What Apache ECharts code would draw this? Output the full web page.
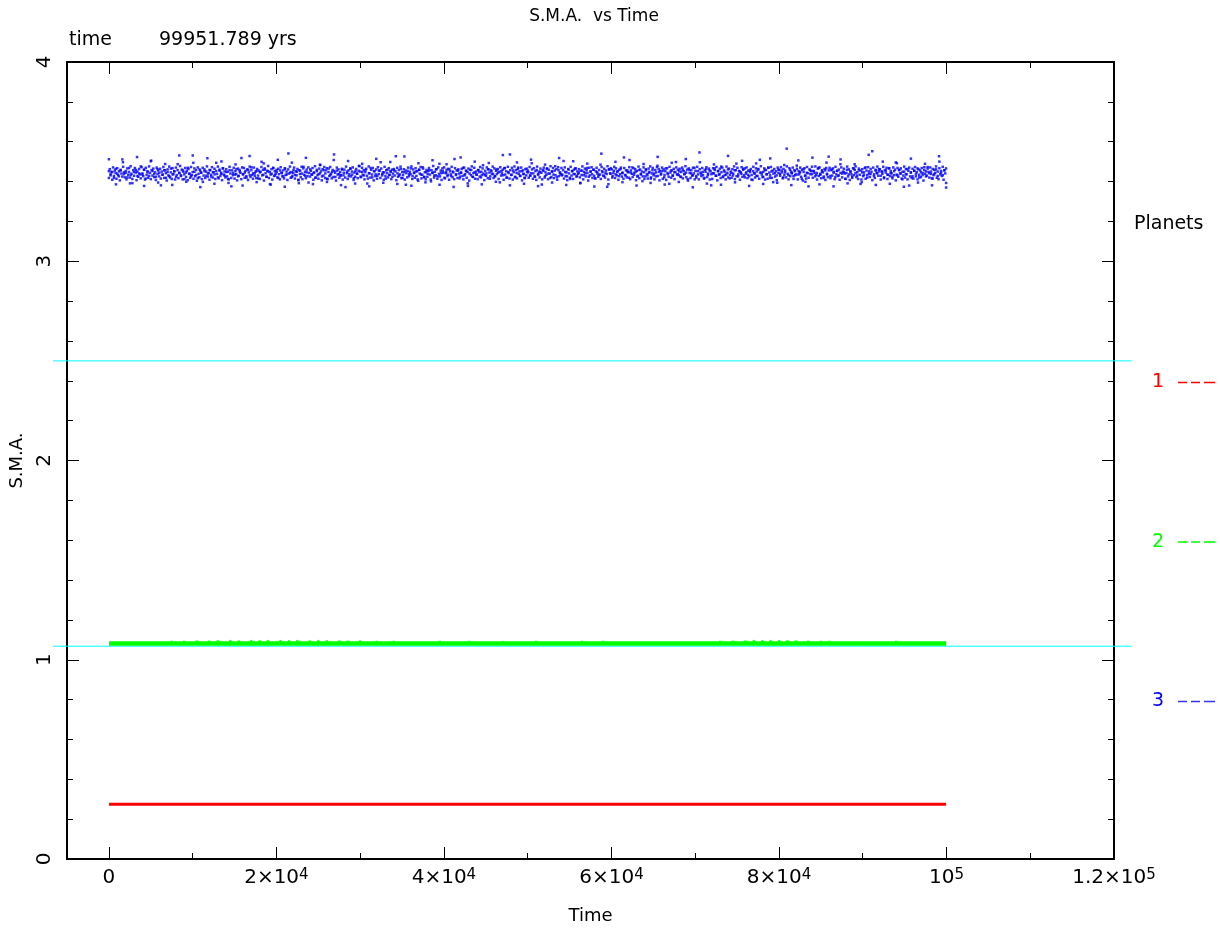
<!DOCTYPE html>
<html>
<head>
<meta charset="utf-8">
<script src="https://cdn.jsdelivr.net/npm/echarts@6/dist/echarts.min.js"></script>
<style>html,body{margin:0;padding:0;background:#fff;}#c{width:1220px;height:929px;}</style>
</head>
<body>
<div id="c"></div>
<script>
// ---- data ----
const xMajorTicks = [0, 20000, 40000, 60000, 80000, 100000, 120000];
const xMinorTicks = [10000, 30000, 50000, 70000, 90000, 110000];
const xTickLabels = ['{b|0}', '{b|2×10}{s|4}', '{b|4×10}{s|4}', '{b|6×10}{s|4}', '{b|8×10}{s|4}', '{b|10}{s|5}', '{b|1.2×10}{s|5}'];
const yTickLabels = ['0', '1', '2', '3', '4'];
const finalTime = 99951.789;
const stabilityLimits = [2.5, 1.068];

const redTimes = [0, 25000, 50000, 75000, 99951.789];
const redValues = [0.275, 0.275, 0.275, 0.275, 0.275];

const greenTimes = [0, 10000, 20000, 30000, 40000, 50000, 60000, 70000, 80000, 90000, 99951.789];
const greenValues = [1.081, 1.082, 1.082, 1.082, 1.081, 1.081, 1.081, 1.081, 1.082, 1.081, 1.081];
const greenBumpTimes = [7500, 9000, 10500, 12000, 13000, 14500, 15500, 17000, 18000, 19000, 20500, 21500, 22500, 24000, 25000, 26000, 27500, 28500, 30000, 32000, 34000, 39500, 43000, 47000, 51000, 56500, 59000, 73000, 74500, 76000, 77000, 78000, 79000, 80000, 81000, 82000, 83500, 85000, 86000, 94000];
const greenBumpValues = [1.088, 1.088, 1.090, 1.089, 1.091, 1.092, 1.090, 1.092, 1.091, 1.092, 1.092, 1.091, 1.092, 1.090, 1.092, 1.091, 1.090, 1.089, 1.090, 1.088, 1.088, 1.088, 1.088, 1.087, 1.088, 1.088, 1.088, 1.088, 1.089, 1.090, 1.092, 1.091, 1.092, 1.092, 1.091, 1.090, 1.089, 1.088, 1.088, 1.088];

// planet 3 snapshots, set A (includes scattered outliers)
const blueSetA = [
3.452,3.431,3.447,3.418,3.463,3.439,3.426,3.455,3.511,3.437,3.444,3.421,3.468,3.433,3.392,3.449,3.458,3.428,3.441,3.476,
3.435,3.459,3.415,3.446,3.429,3.502,3.453,3.438,3.424,3.462,3.443,3.381,3.434,3.457,3.419,3.448,3.427,3.465,3.436,3.451,
3.423,3.487,3.442,3.431,3.456,3.412,3.445,3.469,3.438,3.427,3.531,3.449,3.433,3.417,3.461,3.444,3.398,3.452,3.429,3.440,
3.458,3.425,3.447,3.436,3.494,3.421,3.454,3.439,3.466,3.430,3.448,3.413,3.457,3.376,3.443,3.435,3.462,3.426,3.450,3.518,
3.437,3.445,3.420,3.459,3.432,3.471,3.441,3.428,3.453,3.416,3.446,3.499,3.434,3.460,3.424,3.451,3.387,3.439,3.467,3.430,
3.448,3.418,3.456,3.442,3.427,3.463,3.436,3.541,3.445,3.422,3.458,3.433,3.449,3.409,3.454,3.440,3.474,3.429,3.446,3.395,
3.461,3.434,3.443,3.419,3.452,3.437,3.483,3.426,3.457,3.441,3.414,3.465,3.432,3.448,3.508,3.423,3.455,3.438,3.429,3.460,
3.444,3.372,3.450,3.427,3.464,3.435,3.417,3.453,3.440,3.478,3.425,3.447,3.431,3.458,3.390,3.442,3.468,3.421,3.452,3.436,
3.429,3.455,3.497,3.438,3.446,3.415,3.460,3.433,3.449,3.424,3.456,3.527,3.441,3.430,3.463,3.418,3.447,3.384,3.454,3.437,
3.466,3.428,3.443,3.451,3.411,3.459,3.435,3.472,3.422,3.448,3.439,3.457,3.401,3.445,3.430,3.462,3.426,3.489,3.442,3.453,
3.419,3.447,3.434,3.461,3.428,3.450,3.513,3.437,3.455,3.416,3.444,3.469,3.431,3.452,3.378,3.440,3.458,3.423,3.446,3.436,
3.457,3.425,3.449,3.482,3.433,3.441,3.462,3.414,3.451,3.438,3.427,3.460,3.445,3.396,3.453,3.432,3.467,3.420,3.448,3.536,
3.434,3.456,3.421,3.443,3.470,3.429,3.452,3.439,3.417,3.465,3.446,3.430,3.492,3.441,3.424,3.458,3.436,3.449,3.385,3.454,
3.427,3.463,3.440,3.418,3.451,3.435,3.477,3.422,3.457,3.444,3.431,3.503,3.448,3.426,3.460,3.413,3.453,3.438,3.466,3.429,
3.445,3.393,3.455,3.432,3.441,3.468,3.424,3.450,3.437,3.459,3.416,3.447,3.433,3.485,3.452,3.428,3.443,3.374,3.461,3.439,
3.420,3.454,3.436,3.448,3.427,3.463,3.442,3.521,3.430,3.456,3.419,3.445,3.471,3.434,3.450,3.425,3.458,3.438,3.402,3.447,
3.462,3.431,3.444,3.415,3.457,3.440,3.426,3.479,3.449,3.435,3.453,3.421,3.466,3.443,3.389,3.455,3.430,3.446,3.498,3.437,
3.451,3.423,3.460,3.436,3.445,3.412,3.458,3.441,3.432,3.469,3.427,3.452,3.546,3.439,3.448,3.418,3.463,3.434,3.456,3.381,
3.442,3.466,3.429,3.453,3.437,3.475,3.422,3.449,3.435,3.461,3.416,3.444,3.430,3.457,3.490,3.426,3.450,3.439,3.464,3.421,
3.447,3.433,3.456,3.410,3.452,3.440,3.428,3.463,3.509,3.445,3.424,3.458,3.436,3.470,3.419,3.451,3.397,3.443,3.431,3.460,
3.438,3.455,3.421,3.446,3.565,3.432,3.459,3.441,3.427,3.452,3.480,3.435,3.448,3.414,3.462,3.429,3.444,3.376,3.457,3.437,
3.453,3.426,3.443,3.468,3.434,3.450,3.418,3.456,3.439,3.525,3.428,3.461,3.445,3.422,3.454,3.431,3.487,3.440,3.447,3.413,
3.459,3.436,3.449,3.425,3.464,3.442,3.430,3.457,3.388,3.446,3.433,3.471,3.420,3.451,3.438,3.552,3.427,3.455,3.441,3.462,
3.429,3.448,3.417,3.456,3.435,3.467,3.443,3.424,3.452,3.496,3.431,3.459,3.440,3.411,3.449,3.436,3.463,3.380,3.445,3.427,
3.454,3.438,3.466,3.421,3.447,3.433,3.458,3.426,3.473,3.442,3.450,3.415,3.437,3.461,3.428,3.500,3.444,3.432,3.456,3.370
];
// planet 3 snapshots, set B (dense core of the band)
const blueSetB = [
3.418,3.462,3.437,3.449,3.409,3.471,3.428,3.455,3.443,3.414,3.467,3.432,3.451,3.406,3.459,3.440,3.425,3.474,3.446,3.421,
3.453,3.411,3.466,3.434,3.448,3.420,3.477,3.439,3.413,3.457,3.429,3.468,3.445,3.407,3.450,3.424,3.463,3.436,3.416,3.472,
3.441,3.427,3.459,3.410,3.469,3.433,3.452,3.419,3.476,3.444,3.412,3.458,3.430,3.465,3.422,3.447,3.408,3.470,3.438,3.455,
3.426,3.464,3.415,3.450,3.435,3.473,3.418,3.456,3.442,3.405,3.461,3.431,3.475,3.421,3.446,3.413,3.467,3.437,3.452,3.410,
3.470,3.432,3.457,3.417,3.444,3.478,3.428,3.460,3.411,3.449,3.436,3.468,3.423,3.454,3.407,3.463,3.440,3.419,3.473,3.433,
3.448,3.414,3.466,3.427,3.458,3.404,3.471,3.439,3.422,3.455,3.445,3.412,3.469,3.430,3.461,3.418,3.450,3.476,3.425,3.443,
3.409,3.457,3.434,3.472,3.420,3.447,3.464,3.413,3.453,3.438,3.475,3.416,3.460,3.428,3.444,3.407,3.467,3.435,3.451,3.421,
3.462,3.426,3.449,3.411,3.474,3.440,3.418,3.456,3.432,3.469,3.415,3.452,3.437,3.406,3.465,3.429,3.458,3.444,3.412,3.471,
3.436,3.468,3.419,3.453,3.427,3.461,3.408,3.446,3.475,3.423,3.457,3.433,3.414,3.470,3.441,3.450,3.417,3.463,3.430,3.455,
3.413,3.449,3.473,3.431,3.459,3.405,3.466,3.442,3.424,3.454,3.478,3.418,3.447,3.435,3.462,3.410,3.469,3.428,3.452,3.439,
3.458,3.421,3.464,3.437,3.411,3.472,3.445,3.426,3.456,3.416,3.467,3.433,3.450,3.408,3.461,3.440,3.475,3.419,3.448,3.429,
3.444,3.470,3.415,3.452,3.431,3.463,3.407,3.457,3.438,3.422,3.474,3.412,3.466,3.434,3.449,3.417,3.460,3.427,3.471,3.443,
3.425,3.454,3.436,3.468,3.409,3.446,3.477,3.420,3.459,3.432,3.414,3.465,3.441,3.451,3.406,3.462,3.430,3.473,3.418,3.456,
3.467,3.412,3.448,3.428,3.473,3.439,3.416,3.458,3.423,3.453,3.444,3.405,3.470,3.435,3.461,3.419,3.447,3.432,3.464,3.410,
3.431,3.460,3.420,3.475,3.442,3.413,3.456,3.437,3.466,3.426,3.450,3.471,3.408,3.445,3.424,3.463,3.439,3.417,3.454,3.478,
3.450,3.422,3.469,3.433,3.457,3.411,3.447,3.464,3.429,3.415,3.476,3.441,3.420,3.459,3.435,3.468,3.406,3.452,3.427,3.461,
3.414,3.472,3.438,3.455,3.418,3.465,3.431,3.446,3.409,3.474,3.428,3.457,3.443,3.421,3.467,3.434,3.453,3.412,3.460,3.440,
3.463,3.430,3.451,3.407,3.469,3.424,3.458,3.436,3.475,3.417,3.448,3.433,3.462,3.410,3.455,3.442,3.421,3.470,3.427,3.449,
3.437,3.476,3.413,3.461,3.445,3.419,3.467,3.428,3.452,3.404,3.459,3.440,3.473,3.416,3.434,3.465,3.423,3.447,3.411,3.458,
3.424,3.453,3.468,3.435,3.410,3.457,3.443,3.478,3.420,3.449,3.431,3.462,3.414,3.471,3.439,3.426,3.455,3.408,3.466,3.444,
3.471,3.416,3.442,3.459,3.427,3.464,3.409,3.451,3.436,3.474,3.422,3.446,3.412,3.467,3.433,3.456,3.418,3.461,3.440,3.425,
3.445,3.463,3.428,3.411,3.470,3.437,3.455,3.419,3.448,3.465,3.405,3.459,3.432,3.476,3.424,3.442,3.469,3.414,3.450,3.434,
3.412,3.458,3.447,3.473,3.421,3.433,3.466,3.440,3.407,3.454,3.429,3.471,3.417,3.461,3.445,3.426,3.457,3.438,3.475,3.418,
3.466,3.427,3.454,3.438,3.463,3.413,3.449,3.472,3.430,3.441,3.460,3.409,3.468,3.435,3.452,3.420,3.474,3.443,3.415,3.457,
3.433,3.469,3.410,3.447,3.476,3.424,3.458,3.416,3.464,3.439,3.451,3.428,3.470,3.406,3.456,3.437,3.419,3.462,3.431,3.448,
3.455,3.419,3.473,3.430,3.442,3.461,3.414,3.467,3.426,3.453,3.408,3.475,3.436,3.449,3.421,3.465,3.444,3.411,3.458,3.470,
3.420,3.446,3.434,3.466,3.412,3.459,3.440,3.477,3.423,3.450,3.468,3.417,3.455,3.432,3.462,3.409,3.472,3.427,3.445,3.436,
3.468,3.435,3.457,3.415,3.471,3.428,3.446,3.407,3.463,3.441,3.419,3.474,3.430,3.452,3.413,3.460,3.437,3.466,3.424,3.451,
3.439,3.462,3.421,3.454,3.433,3.476,3.411,3.448,3.465,3.426,3.457,3.443,3.405,3.469,3.431,3.450,3.472,3.418,3.460,3.429,
3.416,3.451,3.469,3.440,3.424,3.458,3.435,3.413,3.473,3.447,3.430,3.464,3.420,3.455,3.438,3.477,3.410,3.461,3.442,3.467,
3.461,3.428,3.443,3.474,3.418,3.466,3.431,3.452,3.409,3.459,3.437,3.470,3.425,3.445,3.414,3.468,3.433,3.456,3.421,3.448,
3.447,3.472,3.412,3.456,3.439,3.423,3.467,3.444,3.462,3.407,3.453,3.429,3.475,3.417,3.460,3.436,3.450,3.426,3.471,3.413,
3.426,3.457,3.438,3.415,3.465,3.449,3.476,3.421,3.441,3.468,3.432,3.411,3.458,3.446,3.473,3.428,3.463,3.406,3.454,3.440,
3.470,3.414,3.461,3.433,3.452,3.408,3.467,3.437,3.424,3.474,3.445,3.419,3.456,3.430,3.464,3.412,3.448,3.471,3.435,3.459,
3.432,3.464,3.425,3.448,3.470,3.416,3.453,3.439,3.477,3.422,3.460,3.405,3.466,3.443,3.418,3.457,3.429,3.469,3.441,3.411,
3.454,3.420,3.474,3.436,3.411,3.462,3.445,3.427,3.468,3.432,3.415,3.458,3.449,3.472,3.423,3.440,3.465,3.410,3.451,3.437,
3.413,3.467,3.441,3.458,3.429,3.473,3.406,3.452,3.435,3.464,3.418,3.447,3.470,3.426,3.456,3.433,3.411,3.475,3.444,3.421,
3.465,3.434,3.450,3.419,3.462,3.440,3.476,3.412,3.457,3.427,3.469,3.436,3.453,3.409,3.446,3.472,3.424,3.459,3.431,3.466,
3.440,3.471,3.417,3.455,3.426,3.448,3.463,3.433,3.408,3.474,3.442,3.420,3.466,3.451,3.428,3.460,3.414,3.445,3.477,3.435,
3.422,3.449,3.466,3.410,3.458,3.437,3.414,3.469,3.445,3.431,3.473,3.418,3.455,3.440,3.463,3.425,3.452,3.407,3.470,3.443,
3.458,3.429,3.472,3.446,3.416,3.463,3.434,3.455,3.421,3.476,3.439,3.411,3.467,3.427,3.450,3.444,3.470,3.413,3.457,3.432,
3.436,3.464,3.411,3.453,3.441,3.470,3.424,3.459,3.405,3.448,3.467,3.430,3.415,3.473,3.442,3.419,3.461,3.437,3.452,3.474,
3.419,3.452,3.443,3.476,3.433,3.410,3.465,3.428,3.471,3.439,3.417,3.457,3.446,3.425,3.463,3.408,3.468,3.435,3.422,3.456,
3.469,3.417,3.457,3.430,3.466,3.448,3.412,3.474,3.436,3.453,3.428,3.460,3.409,3.444,3.471,3.421,3.450,3.464,3.440,3.414,
3.443,3.475,3.426,3.461,3.408,3.451,3.437,3.419,3.467,3.432,3.458,3.476,3.422,3.447,3.413,3.465,3.434,3.455,3.410,3.462,
3.427,3.446,3.468,3.414,3.455,3.433,3.472,3.440,3.423,3.463,3.449,3.407,3.470,3.436,3.418,3.459,3.444,3.475,3.429,3.451,
3.462,3.410,3.451,3.438,3.474,3.421,3.458,3.445,3.469,3.413,3.434,3.466,3.427,3.453,3.441,3.416,3.471,3.432,3.460,3.406,
3.435,3.468,3.424,3.457,3.441,3.466,3.415,3.449,3.430,3.475,3.420,3.462,3.437,3.411,3.454,3.470,3.426,3.446,3.418,3.464,
3.415,3.454,3.473,3.426,3.447,3.411,3.461,3.434,3.456,3.422,3.468,3.443,3.405,3.472,3.439,3.451,3.430,3.465,3.448,3.420,
3.471,3.438,3.416,3.463,3.432,3.459,3.444,3.476,3.419,3.450,3.412,3.467,3.436,3.453,3.428,3.474,3.409,3.457,3.441,3.466
];
// planet 3 snapshots, set C (excursions above and below the band)
const blueSetC = [
3.512,3.386,3.497,3.391,3.523,3.378,3.505,3.395,3.488,3.383,3.531,3.399,3.494,3.372,3.517,3.389,3.501,3.393,3.486,3.380,
3.528,3.397,3.491,3.385,3.509,3.374,3.495,3.392,3.519,3.387,3.484,3.398,3.536,3.382,3.503,3.390,3.489,3.376,3.514,3.394,
3.498,3.388,3.526,3.379,3.492,3.396,3.507,3.384,3.487,3.373,3.521,3.391,3.500,3.386,3.493,3.399,3.533,3.381,3.496,3.389,
3.510,3.377,3.485,3.395,3.518,3.383,3.502,3.392,3.490,3.375,3.540,3.387,3.499,3.397,3.508,3.380,3.488,3.393,3.524,3.385,
3.494,3.398,3.513,3.371,3.497,3.390,3.486,3.384,3.529,3.396,3.504,3.378,3.491,3.388,3.516,3.394,3.483,3.382,3.506,3.399,
3.520,3.386,3.495,3.376,3.511,3.391,3.487,3.397,3.534,3.383,3.500,3.389,3.492,3.374,3.515,3.395,3.489,3.381,3.527,3.393
];
// snapshots written at a regular output interval up to the final time
const snapshots = vals => vals.map((v, i) => [i * finalTime / (vals.length - 1), v]);
const zip = (a, b) => a.map((t, i) => [t, b[i]]);

// ---- chart ----
const FONT = 'DejaVu Sans';
const chart = echarts.init(document.getElementById('c'), null, { renderer: 'canvas' });
const black = '#000';
const grid = { left: 67, right: 106, top: 62, bottom: 70, outerBoundsMode: 'none' };
const baseX = {
  type: 'value', gridIndex: 0, min: -5000, max: 120000,
  splitLine: { show: false },
  axisLine: { show: true, onZero: false, lineStyle: { color: black, width: 2 } }
};
const baseY = {
  type: 'value', gridIndex: 0, min: 0, max: 4, interval: 1,
  splitLine: { show: false },
  axisLine: { show: true, onZero: false, lineStyle: { color: black, width: 2 } },
  axisTick: { show: true, inside: true, length: 12, lineStyle: { color: black, width: 1 } },
  minorTick: { show: true, splitNumber: 5, length: 6, lineStyle: { color: black, width: 1 } }
};
const blueSeries = set => ({
  name: '3', type: 'scatter', xAxisIndex: 0, yAxisIndex: 0, symbol: 'rect', symbolSize: 2.5,
  itemStyle: { color: '#0000ff' }, data: snapshots(set), z: 3
});

chart.setOption({
  animation: false,
  backgroundColor: '#fff',
  textStyle: { fontFamily: FONT },
  title: [
    { text: 'S.M.A.  vs Time', left: 589, textAlign: 'center', top: 3,
      textStyle: { fontFamily: FONT, fontSize: 17, fontWeight: 'normal', color: black } },
    { text: 'time', left: 64, top: 26,
      textStyle: { fontFamily: FONT, fontSize: 19, fontWeight: 'normal', color: black } },
    { text: finalTime.toFixed(3) + ' yrs', left: 154, top: 26,
      textStyle: { fontFamily: FONT, fontSize: 19, fontWeight: 'normal', color: black } },
    { text: 'Planets', left: 1129, top: 210,
      textStyle: { fontFamily: FONT, fontSize: 19, fontWeight: 'normal', color: black } }
  ],
  legend: {
    orient: 'vertical', right: 0, top: 368, itemGap: 140.5, align: 'right',
    selectedMode: false,
    icon: 'path://M0 0H9V1.5H0Z M13 0H22V1.5H13Z M26 0H37V1.5H26Z',
    itemWidth: 37, itemHeight: 1.5,
    textStyle: { fontFamily: FONT, fontSize: 19, padding: [0, 9, 0, 0] },
    data: [
      { name: '1', textStyle: { color: '#ff0000' } },
      { name: '2', textStyle: { color: '#00ff00' } },
      { name: '3', textStyle: { color: '#0000ff' } }
    ]
  },
  grid: [grid, { left: 53, right: 89, top: 62, bottom: 70, outerBoundsMode: 'none' }],
  xAxis: [
    Object.assign({}, baseX, {
      position: 'bottom',
      axisTick: { show: true, inside: true, length: 12, customValues: xMajorTicks, lineStyle: { color: black, width: 1 } },
      axisLabel: {
        show: true, customValues: xMajorTicks, margin: 9, color: black,
        formatter: v => { const i = xMajorTicks.indexOf(v); return i >= 0 ? xTickLabels[i] : ''; },
        rich: {
          b: { fontFamily: FONT, fontSize: 20, lineHeight: 20, padding: [5, 0, 0, 0], verticalAlign: 'bottom', color: black },
          s: { fontFamily: FONT, fontSize: 15, lineHeight: 15, verticalAlign: 'top', color: black }
        }
      },
      name: 'Time', nameLocation: 'middle', nameGap: 48,
      nameTextStyle: { fontFamily: FONT, fontSize: 18, color: black }
    }),
    Object.assign({}, baseX, {
      position: 'bottom', axisLine: { show: false, onZero: false },
      axisTick: { show: true, inside: true, length: 6, customValues: xMinorTicks, lineStyle: { color: black, width: 1 } },
      axisLabel: { show: false }
    }),
    Object.assign({}, baseX, {
      position: 'top',
      axisTick: { show: true, inside: true, length: 12, customValues: xMajorTicks, lineStyle: { color: black, width: 1 } },
      axisLabel: { show: false }
    }),
    Object.assign({}, baseX, {
      position: 'top', axisLine: { show: false, onZero: false },
      axisTick: { show: true, inside: true, length: 6, customValues: xMinorTicks, lineStyle: { color: black, width: 1 } },
      axisLabel: { show: false }
    }),
    { type: 'value', gridIndex: 1, min: 0, max: 1, show: false }
  ],
  yAxis: [
    Object.assign({}, baseY, {
      position: 'left',
      axisLabel: {
        show: true, rotate: 90, margin: 12, color: black, fontFamily: FONT, fontSize: 20,
        formatter: v => yTickLabels[Math.round(v)] ?? ''
      },
      name: 'S.M.A.', nameLocation: 'middle', nameGap: 41, nameRotate: 90,
      nameTextStyle: { fontFamily: FONT, fontSize: 18, color: black }
    }),
    Object.assign({}, baseY, { position: 'right', axisLabel: { show: false } }),
    { type: 'value', gridIndex: 1, min: 0, max: 4, show: false }
  ],
  series: [
    {
      name: 'limit-outer', type: 'line', xAxisIndex: 4, yAxisIndex: 2, symbol: 'none', silent: true,
      lineStyle: { color: '#00ffff', width: 1 }, data: [[0, stabilityLimits[0]], [1, stabilityLimits[0]]], z: 1
    },
    {
      name: 'limit-inner', type: 'line', xAxisIndex: 4, yAxisIndex: 2, symbol: 'none', silent: true,
      lineStyle: { color: '#00ffff', width: 1 }, data: [[0, stabilityLimits[1]], [1, stabilityLimits[1]]], z: 1
    },
    {
      name: '1', type: 'line', xAxisIndex: 0, yAxisIndex: 0, symbol: 'none',
      color: '#ff0000', lineStyle: { color: '#ff0000', width: 3 }, itemStyle: { color: '#ff0000' },
      data: zip(redTimes, redValues), z: 3
    },
    {
      name: '2', type: 'line', xAxisIndex: 0, yAxisIndex: 0, symbol: 'none',
      color: '#00ff00', lineStyle: { color: '#00ff00', width: 4.5 }, itemStyle: { color: '#00ff00' },
      data: zip(greenTimes, greenValues), z: 3
    },
    {
      name: '2', type: 'scatter', xAxisIndex: 0, yAxisIndex: 0, symbol: 'rect', symbolSize: [2.5, 3],
      itemStyle: { color: '#00ff00' }, data: zip(greenBumpTimes, greenBumpValues), z: 3
    },
    blueSeries(blueSetB),
    blueSeries(blueSetA),
    blueSeries(blueSetC)
  ]
});
</script>
</body>
</html>
